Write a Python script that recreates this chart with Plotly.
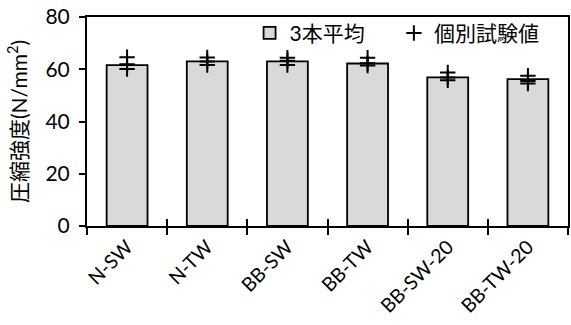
import plotly.graph_objects as go

categories = ["N-SW", "N-TW", "BB-SW", "BB-TW", "BB-SW-20", "BB-TW-20"]
mean_values = [61.6, 63.0, 63.0, 62.2, 56.9, 56.2]
test1 = [64.6, 64.5, 64.4, 64.4, 58.8, 57.5]
test2 = [61.9, 63.0, 63.3, 62.3, 56.8, 55.5]
test3 = [60.1, 61.6, 61.6, 61.4, 55.8, 54.5]
y_ticks = [0, 20, 40, 60, 80]

font_family = "Lato, 'Noto Sans CJK JP', sans-serif"

pts_x = []
pts_y = []
for c, a, b, d in zip(categories, test1, test2, test3):
    pts_x += [c, c, c]
    pts_y += [a, b, d]

fig = go.Figure()
fig.add_trace(go.Bar(
    x=categories, y=mean_values, name="3本平均", legend="legend",
    marker=dict(color="#d9d9d9", line=dict(color="black", width=1.8)),
    width=0.51,
))
fig.add_trace(go.Scatter(
    x=pts_x, y=pts_y, mode="markers", name="個別試験値", legend="legend2",
    marker=dict(symbol="cross-thin", size=11, line=dict(color="black", width=2), color="black"),
))
# helper trace for inside tick marks
fig.add_trace(go.Scatter(
    x=categories, y=[None]*len(categories), xaxis="x2", yaxis="y2",
    showlegend=False, hoverinfo="skip", mode="markers",
))

legend_common = dict(orientation="h", y=1.02, xanchor="left", yanchor="top",
                     font=dict(size=21), bgcolor="rgba(0,0,0,0)", itemwidth=30)

fig.update_layout(
    width=571, height=325,
    margin=dict(l=87, r=1, t=17, b=99),
    paper_bgcolor="white", plot_bgcolor="white",
    font=dict(family=font_family, color="black", size=19),
    showlegend=True,
    legend=dict(x=0.338, **legend_common),
    legend2=dict(x=0.638, **legend_common),
    xaxis=dict(type="category", categoryarray=categories, showline=True, linecolor="black",
               linewidth=2, mirror=True, ticks="outside", tickson="boundaries", ticklen=7,
               tickwidth=1.5, tickcolor="black", tickangle=-45, tickfont=dict(size=19.5),
               showgrid=False, range=[-0.5, 5.5]),
    xaxis2=dict(type="category", categoryarray=categories, overlaying="x", matches="x",
                anchor="y2", ticks="inside", tickson="boundaries", ticklen=7, tickwidth=1.5,
                tickcolor="black", showticklabels=False, showgrid=False, showline=False),
    yaxis=dict(range=[0, 80], tickvals=y_ticks, showline=True, linecolor="black", linewidth=2,
               mirror=True, ticks="outside", ticklen=6, tickwidth=1.5, tickcolor="black",
               ticklabelstandoff=5,
               showgrid=False, zeroline=False, tickfont=dict(size=21),
               title=dict(text="圧縮強度(N/mm<sup>2</sup>)", font=dict(size=21), standoff=12)),
    yaxis2=dict(overlaying="y", matches="y", anchor="x2", showticklabels=False, showgrid=False,
                showline=False, zeroline=False, ticks=""),
)

fig.write_html("out.html")
